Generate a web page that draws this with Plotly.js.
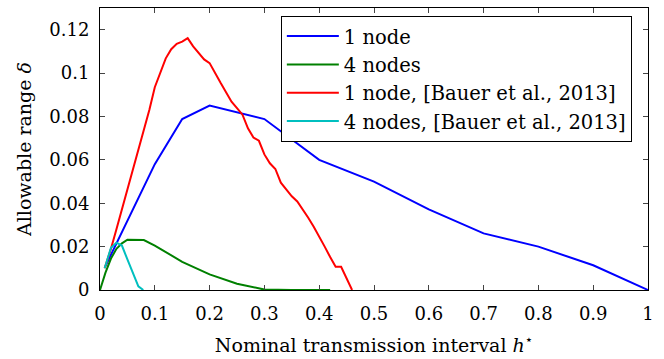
<!DOCTYPE html>
<html>
<head>
<meta charset="utf-8">
<script src="https://cdn.plot.ly/plotly-3.0.1.min.js"></script>
<style>html,body{margin:0;padding:0;background:#fff;}#chart{width:664px;height:359px;}</style>
</head>
<body>
<div id="chart"></div>
<script>
// 1 node
var oneNodeX = [0.01, 0.05, 0.1, 0.15, 0.2, 0.3, 0.4, 0.5, 0.6, 0.7, 0.8, 0.9, 1.0];
var oneNodeY = [0.011, 0.032, 0.058, 0.0788, 0.085, 0.0788, 0.060, 0.050, 0.0372, 0.0261, 0.020, 0.0114, 0];
// 4 nodes
var fourNodesX = [0, 0.01, 0.02, 0.03, 0.04, 0.05, 0.08, 0.1, 0.15, 0.2, 0.25, 0.3, 0.35, 0.42];
var fourNodesY = [0, 0.008, 0.0145, 0.019, 0.0215, 0.0232, 0.023, 0.0205, 0.013, 0.0072, 0.0029, 0.0002, 0, 0];
// 1 node, Bauer et al., 2013
var bauer1X = [0.0085, 0.02, 0.03, 0.04, 0.05, 0.06, 0.07, 0.08, 0.09, 0.10, 0.11, 0.12, 0.13, 0.14, 0.15, 0.16, 0.17, 0.18, 0.19, 0.20, 0.21, 0.22, 0.23, 0.24, 0.25, 0.26, 0.27, 0.28, 0.29, 0.30, 0.31, 0.32, 0.33, 0.34, 0.35, 0.36, 0.37, 0.38, 0.39, 0.40, 0.41, 0.42, 0.43, 0.44, 0.45, 0.46];
var bauer1Y = [0.010, 0.019, 0.028, 0.037, 0.046, 0.055, 0.064, 0.073, 0.083, 0.0935, 0.1005, 0.1068, 0.111, 0.1135, 0.1145, 0.1161, 0.1123, 0.1092, 0.1063, 0.1046, 0.0998, 0.0955, 0.0912, 0.0868, 0.0838, 0.0808, 0.0745, 0.0703, 0.0688, 0.0625, 0.0584, 0.0558, 0.0495, 0.0462, 0.0432, 0.0408, 0.0372, 0.0333, 0.0292, 0.0248, 0.0200, 0.0152, 0.0107, 0.0107, 0.0055, 0];
// 4 nodes, Bauer et al., 2013
var bauer4X = [0.0085, 0.02, 0.03, 0.04, 0.05, 0.06, 0.07, 0.079];
var bauer4Y = [0.010, 0.0195, 0.0218, 0.0205, 0.0141, 0.0077, 0.0017, 0];

var seriesNames = ['1 node', '4 nodes', '1 node, [Bauer et al., 2013]', '4 nodes, [Bauer et al., 2013]'];
var seriesColors = ['#0000ff', '#008000', '#ff0000', '#00bfbf'];
var xTicks = [0, 0.1, 0.2, 0.3, 0.4, 0.5, 0.6, 0.7, 0.8, 0.9, 1];
var xTickLabels = ['0', '0.1', '0.2', '0.3', '0.4', '0.5', '0.6', '0.7', '0.8', '0.9', '1'];
var yTicks = [0, 0.02, 0.04, 0.06, 0.08, 0.1, 0.12];
var yTickLabels = ['0', '0.02', '0.04', '0.06', '0.08', '0.1', '0.12'];

var xs = [oneNodeX, fourNodesX, bauer1X, bauer4X];
var ys = [oneNodeY, fourNodesY, bauer1Y, bauer4Y];
var data = xs.map(function (x, i) {
  return {
    x: x, y: ys[i], type: 'scatter', mode: 'lines', name: seriesNames[i],
    line: {color: seriesColors[i], width: 2}
  };
});

var fam = 'DejaVu Serif, DejaVu Sans, serif';
var tickFont = {family: fam, size: 18, color: '#000'};
var titleFont = {family: fam, size: 19, color: '#000'};
var layout = {
  width: 664, height: 359,
  margin: {l: 100, r: 16, t: 8, b: 69},
  paper_bgcolor: '#fff', plot_bgcolor: '#fff',
  font: titleFont,
  showlegend: true,
  legend: {
    x: 0.330, y: 0.972, xanchor: 'left', yanchor: 'top',
    bgcolor: '#fff', bordercolor: '#000', borderwidth: 1,
    font: {family: fam, size: 19.5, color: '#000'},
    itemwidth: 52, tracegroupgap: 0
  },
  xaxis: {
    range: [0, 1], tickvals: xTicks, ticktext: xTickLabels,
    showline: true, linecolor: '#000', linewidth: 1, mirror: 'ticks',
    ticks: 'inside', ticklen: 5, tickcolor: '#444', tickwidth: 1,
    showgrid: false, zeroline: false,
    tickfont: tickFont, ticklabelstandoff: 7,
    title: {text: 'Nominal transmission interval <i>h</i><sup>⋆</sup>', font: titleFont, standoff: 16}
  },
  yaxis: {
    range: [0, 0.13], tickvals: yTicks, ticktext: yTickLabels,
    showline: true, linecolor: '#000', linewidth: 1, mirror: 'ticks',
    ticks: 'inside', ticklen: 5, tickcolor: '#444', tickwidth: 1,
    showgrid: false, zeroline: false,
    tickfont: tickFont, ticklabelstandoff: 6,
    title: {text: 'Allowable range <i>δ</i>', font: titleFont, standoff: 12}
  }
};

Plotly.newPlot('chart', data, layout, {displayModeBar: false, staticPlot: true});
</script>
</body>
</html>
